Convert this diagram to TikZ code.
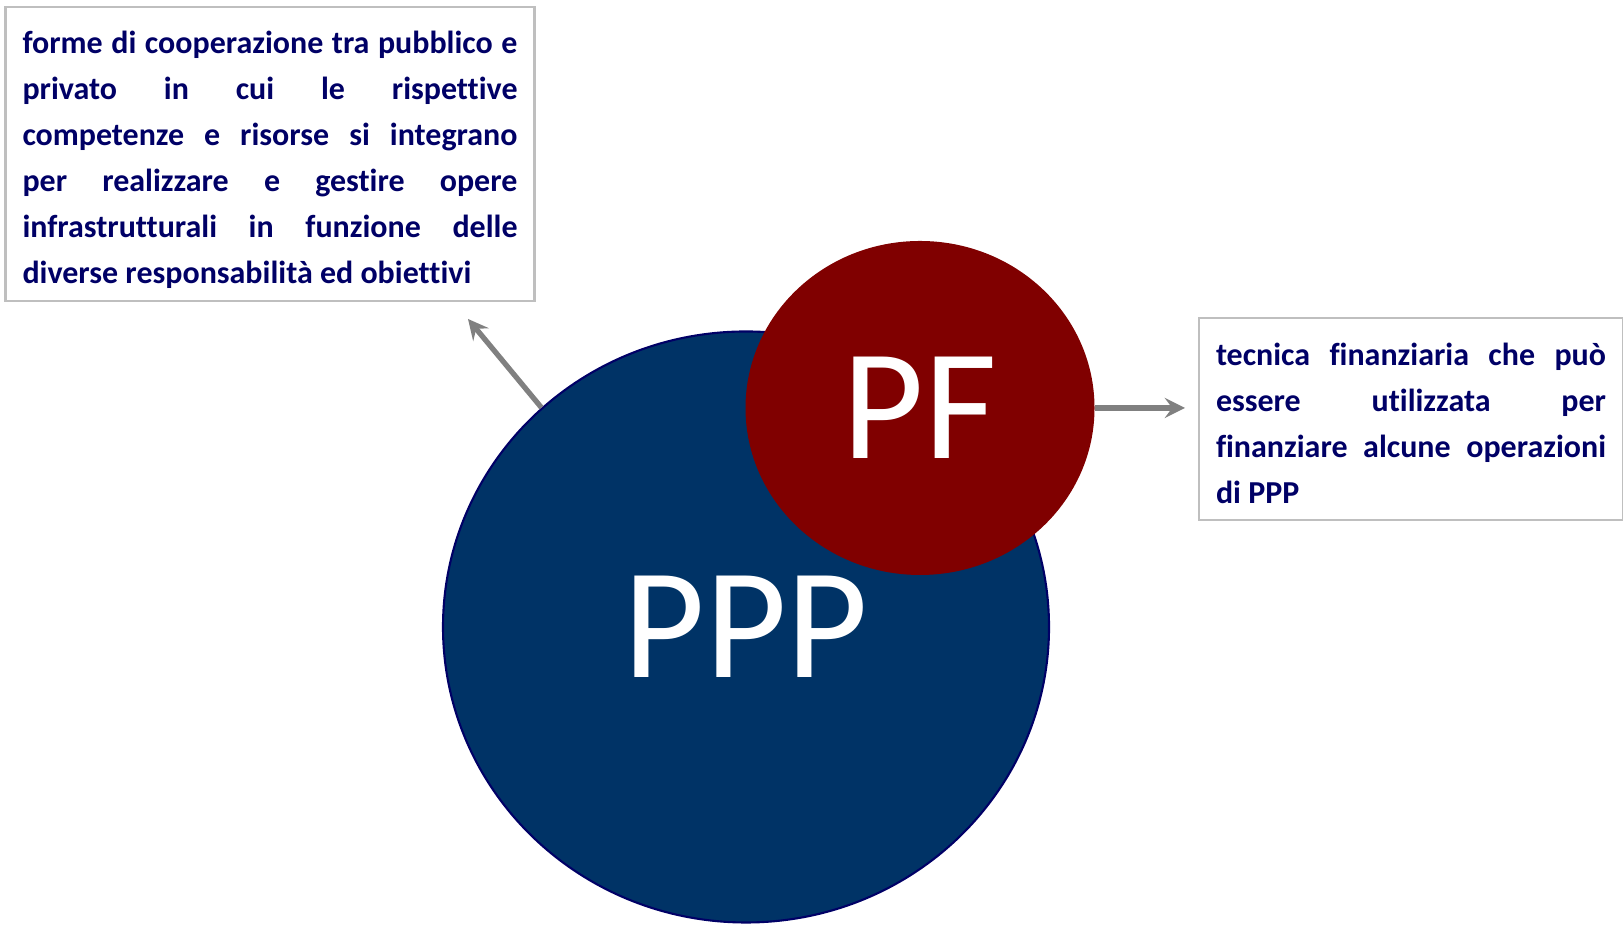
\documentclass[tikz,border=0pt]{standalone}
\usepackage{fontspec}
\setmainfont{Carlito}[Ligatures=NoCommon]
\usepackage{xcolor}
\usetikzlibrary{arrows}
\usetikzlibrary{shapes.geometric}
\definecolor{pppblue}{RGB}{0,51,102}
\definecolor{pfred}{RGB}{128,0,0}
\definecolor{textnavy}{RGB}{0,0,102}
\definecolor{boxgray}{RGB}{191,191,191}
\definecolor{arrowgray}{RGB}{128,128,128}

\begin{document}
\begin{tikzpicture}[scale=1,
 textbox/.style={draw=boxgray, line width=0.7pt, align=justify, inner xsep=0.17cm, inner ysep=0pt, text=textnavy, font=\fontsize{9.1}{13.1}\selectfont\bfseries},
 bigtext/.style={text=white, font=\fontsize{45}{45}\selectfont, inner sep=0pt}]
\useasboundingbox (0,0) rectangle (16.23,9.28);

 %circles:
 \node[ellipse, fill=pppblue, draw=textnavy, line width=0.6pt, minimum width=6.06cm, minimum height=5.91cm, bigtext] (ppp) at (7.46,3.01) {PPP};
 \node[ellipse, fill=pfred, minimum width=3.49cm, minimum height=3.34cm, bigtext] (pf) at (9.2,5.2) {PF};

 %boxes:
 \node[textbox, text width=4.95cm, minimum height=2.94cm] (def) at (2.70,7.74) {\rule{0pt}{9.7pt}forme di cooperazione tra pubblico e\linebreak privato in cui le rispettive\linebreak competenze e risorse si integrano\linebreak per realizzare e gestire opere\linebreak infrastrutturali in funzione delle\linebreak diverse responsabilità ed obiettivi};
 \node[textbox, text width=3.90cm, minimum height=2.02cm] (fin) at (14.11,5.09) {\rule{0pt}{9.1pt}tecnica finanziaria che può\linebreak essere utilizzata per\linebreak finanziare alcune operazioni\linebreak di PPP};

 %arrows:
 \coordinate (defTip) at (4.68,6.09);
 \coordinate (finTip) at (11.85,5.20);
 \draw[-stealth, arrowgray, line width=1.5pt] (ppp.133) -- (defTip);
 \draw[-stealth, arrowgray, line width=1.5pt] (pf.east) -- (finTip);
\end{tikzpicture}
\end{document}
